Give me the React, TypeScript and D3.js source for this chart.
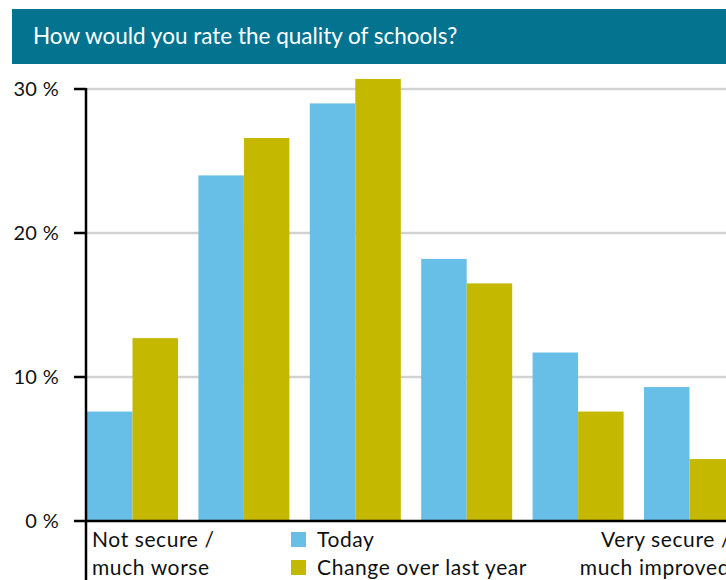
import React from "react";
import * as d3 from "d3";

const title = "How would you rate the quality of schools?";
const categories = ["c1", "c2", "c3", "c4", "c5", "c6"];
const seriesNames = ["Today", "Change over last year"];
const today = [7.6, 24.0, 29.0, 18.2, 11.7, 9.3];
const change = [12.7, 26.6, 30.7, 16.5, 7.6, 4.3];
const yTicks = [0, 10, 20, 30];
const leftLabel = ["Not secure /", "much worse"];
const rightLabel = ["Very secure /", "much improved"];
const colors = ["#67bee6", "#c4b800"];

const W = 726;
const H = 580;
const FONT = "Lato, 'Open Sans', sans-serif";
const LS = 0.6;

export default function App() {
  const x0 = d3.scaleBand<string>().domain(categories).range([87, 735]).paddingInner(0.183).paddingOuter(0).align(0);
  const x1 = d3.scaleBand<string>().domain(seriesNames).range([0, x0.bandwidth()]).padding(0);
  const y = d3.scaleLinear().domain([0, 30]).range([521, 89]);
  const series = [today, change];
  const axisX = 86;

  return (
    <svg width={W} height={H} style={{ position: "absolute", left: 0, top: 0, fontFamily: FONT }}>
      <rect x={12} y={9} width={W - 12} height={55} fill="#037390" />
      <text x={33} y={43.5} fill="#ffffff" fontSize={22.5}>{title}</text>

      {yTicks.filter((t) => t > 0).map((t) => (
        <line key={"g" + t} x1={axisX} x2={W} y1={y(t)} y2={y(t)} stroke="#d2d2d2" strokeWidth={2.5} />
      ))}

      {categories.map((c, i) =>
        seriesNames.map((s, j) => (
          <rect
            key={c + s}
            x={(x0(c) as number) + (x1(s) as number)}
            y={y(series[j][i])}
            width={x1.bandwidth()}
            height={y(0) - y(series[j][i])}
            fill={colors[j]}
          />
        ))
      )}

      <line x1={axisX} x2={axisX} y1={y(30) - 1} y2={H} stroke="#000" strokeWidth={2.5} />
      <line x1={74} x2={W} y1={y(0)} y2={y(0)} stroke="#000" strokeWidth={2.5} />
      {yTicks.filter((t) => t > 0).map((t) => (
        <line key={"t" + t} x1={74} x2={axisX} y1={y(t)} y2={y(t)} stroke="#000" strokeWidth={2.5} />
      ))}
      {yTicks.map((t) => (
        <text key={"l" + t} x={59} y={y(t) + 7} textAnchor="end" fontSize={20} fill="#111" letterSpacing={0.3}>
          {t + " %"}
        </text>
      ))}

      <text x={92} y={547} fontSize={21} fill="#111" letterSpacing={LS}>{leftLabel[0]}</text>
      <text x={92} y={575} fontSize={21} fill="#111" letterSpacing={LS}>{leftLabel[1]}</text>
      <text x={731} y={547} fontSize={21} fill="#111" textAnchor="end" letterSpacing={LS}>{rightLabel[0]}</text>
      <text x={730} y={575} fontSize={21} fill="#111" textAnchor="end" letterSpacing={LS}>{rightLabel[1]}</text>

      {seriesNames.map((s, j) => (
        <g key={s}>
          <rect x={291} y={532 + j * 28} width={15} height={15} fill={colors[j]} />
          <text x={317} y={547 + j * 28} fontSize={21} fill="#111" letterSpacing={LS}>{s}</text>
        </g>
      ))}
    </svg>
  );
}
